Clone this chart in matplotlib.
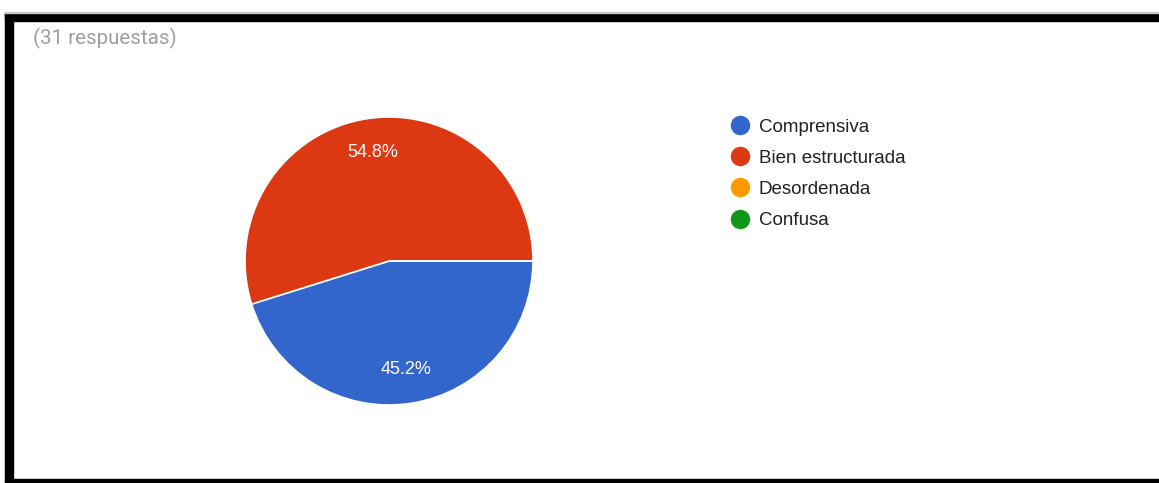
import matplotlib.pyplot as plt
from matplotlib.lines import Line2D
from matplotlib.patches import Rectangle

W, H = 1159, 483

categories = ["Comprensiva", "Bien estructurada", "Desordenada", "Confusa"]
counts = [14, 17, 0, 0]
colors = ["#3366cc", "#dc3912", "#ff9900", "#109618"]
subtitle = "(31 respuestas)"

plt.rcParams['font.family'] = ['Liberation Sans', 'DejaVu Sans']

fig = plt.figure(figsize=(W / 100, H / 100), dpi=100)
fig.patch.set_facecolor("white")


def px(x, y, w, h):
    # pixel box (top-left origin) -> figure fraction
    return [x / W, 1 - (y + h) / H, w / W, h / H]


# pie: centre (389, 261), radius 144 px
cx, cy, r = 389, 261, 144
ax = fig.add_axes(px(cx - r, cy - r, 2 * r, 2 * r))


def pct(p):
    return "%.1f%%" % p if p > 0 else ""


wedges, texts, autotexts = ax.pie(
    counts, colors=colors, startangle=0, counterclock=False,
    autopct=pct, pctdistance=0.76,
    wedgeprops=dict(edgecolor="white", linewidth=1.2),
    textprops=dict(color="white", fontsize=13))
ax.set_xlim(-1, 1)
ax.set_ylim(-1, 1)
ax.set_aspect("equal")
ax.axis("off")

handles = [Line2D([], [], marker="o", linestyle="", markersize=13,
                  markerfacecolor=c, markeredgecolor=c) for c in colors]
fig.legend(handles, categories, loc="upper left",
           bbox_to_anchor=(730.5 / W, 1 - 118.5 / H),
           frameon=False, fontsize=13.5, labelspacing=0.75,
           handlelength=1.0, handletextpad=0.5, borderpad=0,
           borderaxespad=0, labelcolor="#222222")

fig.text(33 / W, 1 - 38 / H, subtitle, fontsize=14.8, color="#9e9e9e",
         family="Roboto", va="center", ha="left")

# black frame of the screenshot
frame = [(4.7, 12.7, 8, H), (4.7, 12.7, W, 8), (4.7, 479, W, 6)]
for x, y, w, h in frame:
    fig.patches.append(Rectangle((x / W, 1 - (y + h) / H), w / W, h / H,
                                 transform=fig.transFigure, color="black",
                                 zorder=10))
fig.patches.append(Rectangle((4.7 / W, 1 - 12.7 / H), 1, 1.0 / H,
                             transform=fig.transFigure, color="#c8c8c8",
                             zorder=10))

fig.savefig("out.png", dpi=100)
